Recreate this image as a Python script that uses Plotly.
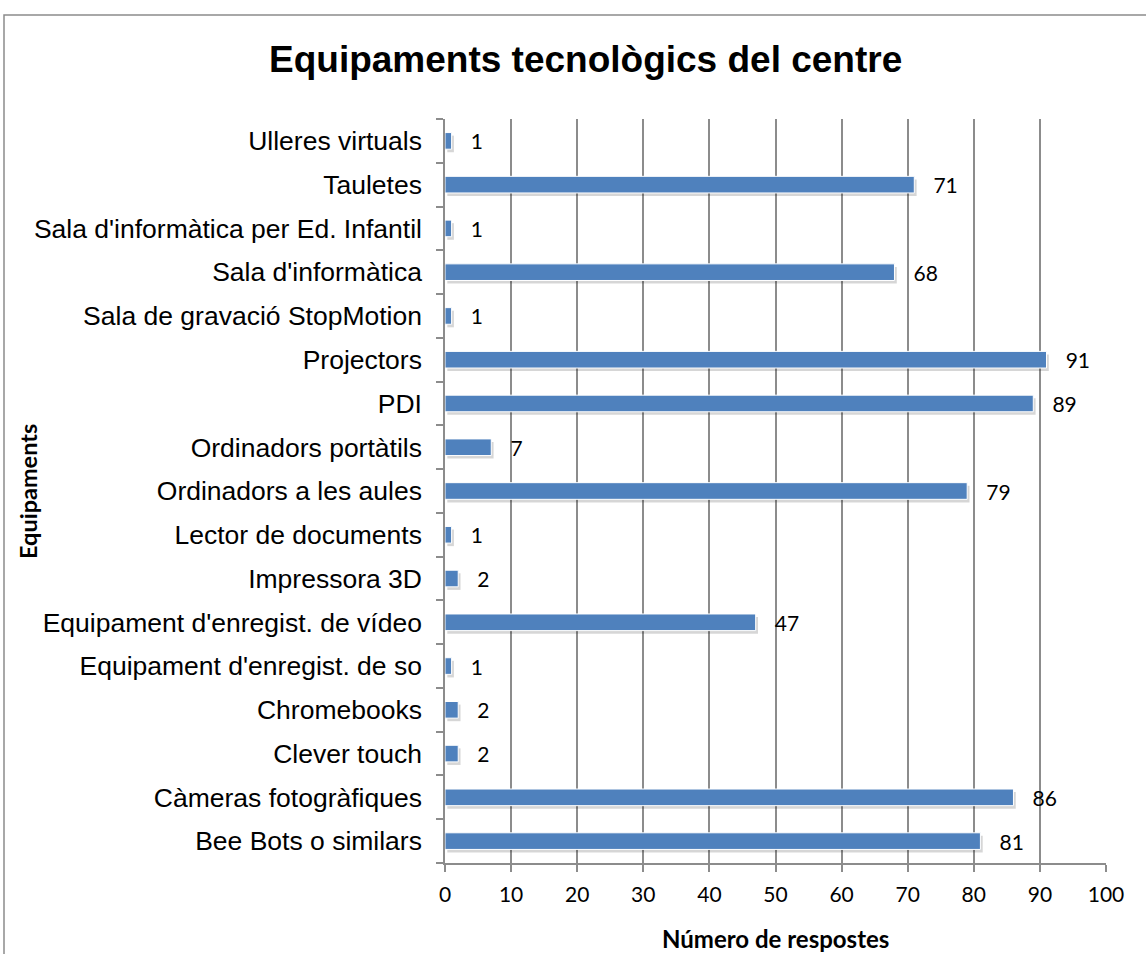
import plotly.graph_objects as go

categories = [
    "Bee Bots o similars",
    "Càmeras fotogràfiques",
    "Clever touch",
    "Chromebooks",
    "Equipament d'enregist. de so",
    "Equipament d'enregist. de vídeo",
    "Impressora 3D",
    "Lector de documents",
    "Ordinadors a les aules",
    "Ordinadors portàtils",
    "PDI",
    "Projectors",
    "Sala de gravació StopMotion",
    "Sala d'informàtica",
    "Sala d'informàtica per Ed. Infantil",
    "Tauletes",
    "Ulleres virtuals",
]
values = [81, 86, 2, 2, 1, 47, 2, 1, 79, 7, 89, 91, 1, 68, 1, 71, 1]
x_ticks = [0, 10, 20, 30, 40, 50, 60, 70, 80, 90, 100]

W, H = 1146, 954
L, R, T, B = 445, 1106, 119, 863
pw, ph = R - L, B - T

def px_x(p):
    return (p - L) / pw

def px_y(p):
    return (B - p) / ph

BW = 0.38
fig = go.Figure()
# soft shadow under each bar
fig.add_trace(go.Bar(
    y=categories, x=values, orientation="h",
    width=BW, offset=-BW / 2 - 0.07, base=0.35,
    marker=dict(color="rgba(0,0,0,0.16)", line=dict(width=0)),
    hoverinfo="skip",
))
fig.add_trace(go.Bar(
    y=categories, x=values, orientation="h",
    width=BW, offset=-BW / 2,
    marker=dict(color="#4F81BD", line=dict(color="#FFFFFF", width=1)),
    text=["   " + str(v) for v in values],
    textposition="outside",
    constraintext="none",
    textfont=dict(family="Lato, Open Sans, sans-serif", size=21, color="#000000"),
    cliponaxis=False,
    hoverinfo="skip",
))

fig.update_layout(
    width=W, height=H,
    margin=dict(l=L, r=W - R, t=T, b=H - B),
    paper_bgcolor="white", plot_bgcolor="white",
    showlegend=False,
    barmode="overlay",
    xaxis=dict(
        range=[0, 100], tickvals=x_ticks, ticktext=[str(v) for v in x_ticks],
        automargin=False,
        showgrid=True, gridcolor="#8C8C8C", gridwidth=1.5,
        zeroline=False,
        showline=True, linecolor="#8C8C8C", linewidth=1.5,
        ticks="outside", ticklen=7, tickcolor="#8C8C8C", tickwidth=1.5,
        ticklabelstandoff=5,
        tickfont=dict(family="Lato, Open Sans, sans-serif", size=21, color="#000000"),
    ),
    yaxis=dict(
        type="category", categoryorder="array", categoryarray=categories,
        automargin=False,
        showgrid=False, zeroline=False,
        showline=True, linecolor="#8C8C8C", linewidth=1.5,
        ticks="outside", tickson="boundaries", ticklen=7, tickcolor="#8C8C8C", tickwidth=1.5,
        ticklabelstandoff=16,
        tickfont=dict(family="Liberation Sans, Arial, sans-serif", size=26.5, color="#000000"),
    ),
    shapes=[dict(
        type="rect", xref="paper", yref="paper",
        x0=px_x(4), x1=px_x(1200), y0=px_y(15), y1=px_y(1000),
        line=dict(color="#8C8C8C", width=1.5), fillcolor="rgba(0,0,0,0)",
        layer="below",
    )],
    annotations=[
        dict(text="<b>Equipaments tecnològics del centre</b>", xref="paper", yref="paper",
             x=px_x(585), y=px_y(60), showarrow=False, xanchor="center", yanchor="middle",
             font=dict(family="Liberation Sans, Arial, sans-serif", size=37, color="#000000")),
        dict(text="<b>Equipaments</b>", xref="paper", yref="paper",
             x=px_x(28), y=px_y(492), showarrow=False, textangle=-90,
             xanchor="center", yanchor="middle",
             font=dict(family="Lato, Open Sans, sans-serif", size=23.5, color="#000000")),
        dict(text="<b>Número de respostes</b>", xref="paper", yref="paper",
             x=px_x(775), y=px_y(938), showarrow=False,
             xanchor="center", yanchor="middle",
             font=dict(family="Lato, Open Sans, sans-serif", size=24, color="#000000")),
    ],
)

fig.write_html(
    "out.html",
    config={"displayModeBar": False},
    post_script="document.body.style.margin='0';document.body.style.overflow='hidden';",
)
